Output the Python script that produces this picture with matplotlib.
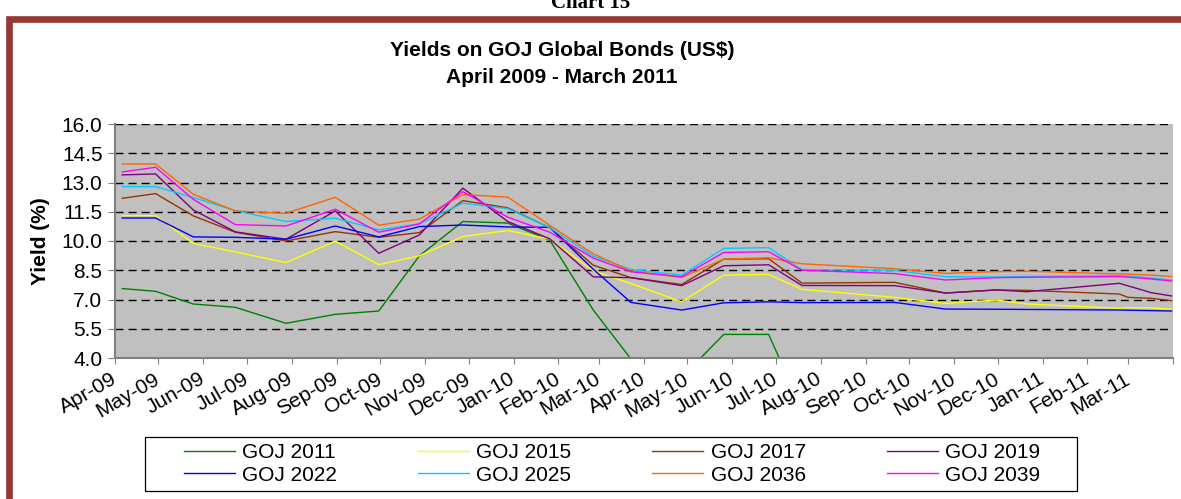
import matplotlib
matplotlib.use('Agg')
import matplotlib.pyplot as plt
from matplotlib.patches import Rectangle
import numpy as np
import pandas as pd

plt.rcParams['font.family'] = ['Liberation Sans', 'DejaVu Sans']

dates = ['2009-04-06', '2009-04-29', '2009-05-25', '2009-06-23', '2009-07-28',
         '2009-08-31', '2009-09-30', '2009-10-28', '2009-11-27', '2009-12-28',
         '2010-01-26', '2010-02-25', '2010-03-23', '2010-04-27', '2010-05-26',
         '2010-06-26', '2010-07-19', '2010-09-21', '2010-10-26', '2010-11-30',
         '2010-12-21', '2011-02-23', '2011-03-01', '2011-03-17', '2011-03-31']

goj2011 = [7.56, 7.42, 6.77, 6.60, 5.78, 6.24, 6.41, 9.24, 11.00, 10.92,
           10.04, 6.46, 3.95, 3.00, 5.21, 5.21, 1.40, np.nan, np.nan, np.nan,
           np.nan, np.nan, np.nan, np.nan, np.nan]
goj2015 = [11.30, 11.30, 9.88, 9.44, 8.89, 9.99, 8.79, 9.24, 10.23, 10.54,
           10.10, 8.47, 7.82, 6.88, 8.25, 8.29, 7.52, 7.11, 6.80, 6.97,
           6.77, 6.55, 6.58, 6.57, 6.50]
goj2017 = [12.19, 12.43, 11.29, 10.45, 10.00, 10.48, 10.19, 10.43, 12.07, 11.70,
           10.68, 8.76, 8.12, 7.77, 9.07, 9.09, 7.84, 7.88, 7.33, 7.49,
           7.47, 7.28, 7.11, 7.06, 6.94]
goj2019 = [13.39, 13.44, 11.59, 10.47, 10.09, 11.54, 9.37, 10.31, 12.71, 11.00,
           10.11, 8.16, 8.12, 7.71, 8.73, 8.78, 7.72, 7.71, 7.33, 7.49,
           7.40, 7.83, 7.70, 7.35, 7.18]
goj2022 = [11.18, 11.18, 10.21, 10.19, 10.09, 10.77, 10.21, 10.74, 10.82, 10.72,
           10.70, 8.55, 6.85, 6.46, 6.83, 6.88, 6.84, 6.85, 6.51, 6.50,
           6.49, 6.46, 6.45, 6.43, 6.41]
goj2025 = [12.79, 12.79, 12.23, 11.56, 11.00, 11.17, 10.57, 10.88, 11.94, 11.66,
           10.68, 9.22, 8.54, 8.25, 9.62, 9.66, 8.53, 8.49, 8.17, 8.15,
           8.18, 8.22, 8.20, 8.10, 8.00]
goj2036 = [13.95, 13.95, 12.40, 11.54, 11.42, 12.24, 10.81, 11.12, 12.38, 12.25,
           10.80, 9.34, 8.46, 8.13, 9.07, 9.14, 8.83, 8.58, 8.34, 8.43,
           8.45, 8.31, 8.30, 8.25, 8.18]
goj2039 = [13.54, 13.78, 12.14, 10.84, 10.77, 11.63, 10.45, 10.88, 12.53, 11.22,
           10.45, 9.12, 8.42, 8.17, 9.41, 9.45, 8.50, 8.33, 8.00, 8.12,
           8.14, 8.17, 8.15, 8.05, 7.95]

series_names = ['GOJ 2011', 'GOJ 2015', 'GOJ 2017', 'GOJ 2019',
                'GOJ 2022', 'GOJ 2025', 'GOJ 2036', 'GOJ 2039']
series_vals = [goj2011, goj2015, goj2017, goj2019,
               goj2022, goj2025, goj2036, goj2039]
colors = ['#008000', '#FFFF00', '#993300', '#800080',
          '#0000FF', '#00CCFF', '#FF6600', '#FF00FF']

x = pd.to_datetime(dates)
W, H = 1181, 499

fig = plt.figure(figsize=(W / 100, H / 100), dpi=100)
ax = fig.add_axes([115 / W, 1 - 358 / H, 1058 / W, 234 / H])
ax.set_facecolor('#C0C0C0')

lines = {}
for name, vals, c in zip(series_names, series_vals, colors):
    ln, = ax.plot(x, vals, color=c, lw=1.0, label=name)
    lines[name] = ln

ax.set_ylim(4.0, 16.0)
yt = np.arange(4.0, 16.01, 1.5)
ax.set_yticks(yt)
ax.set_yticklabels(['%.1f' % v for v in yt])
ax.yaxis.grid(True, color='black', lw=1.0, linestyle=(0, (5.8, 3.6)))
ax.set_axisbelow(True)

months = pd.date_range('2009-04-01', '2011-04-01', freq='MS')
ax.set_xlim(months[0], months[-1])
ax.set_xticks(months)
ax.set_xticklabels([m.strftime('%b-%y') for m in months[:-1]] + [''],
                   rotation=30, ha='right', va='center', rotation_mode='anchor')

for s in ['top', 'right']:
    ax.spines[s].set_visible(False)
for s in ['left', 'bottom']:
    ax.spines[s].set_color('#808080')
    ax.spines[s].set_linewidth(1.5)
ax.tick_params(axis='y', direction='out', length=5, color='#808080',
               labelsize=15, pad=4)
ax.tick_params(axis='x', direction='out', length=4, color='#808080',
               labelsize=15, pad=10)

ax.set_ylabel('Yield (%)', fontsize=15, fontweight='bold')
ax.yaxis.set_label_coords(-0.061, 0.5)

fig.text(562 / W, 1 - 50 / H, 'Yields on GOJ Global Bonds (US$)',
         ha='center', va='center', fontsize=15, fontweight='bold')
fig.text(562 / W, 1 - 78 / H, 'April 2009 - March 2011',
         ha='center', va='center', fontsize=15, fontweight='bold')
fig.text(551 / W, 1 - 8 / H, 'Chart 15', ha='left', va='baseline',
         fontsize=15, fontweight='bold', family='Liberation Serif')

# outer chart frame
fig.add_artist(Rectangle((9 / W, -0.1), 1.2, 1 - 19 / H + 0.1,
                         transform=fig.transFigure, fill=False,
                         edgecolor='#953735', linewidth=4.8))

# legend in row order
order = ['GOJ 2011', 'GOJ 2022', 'GOJ 2015', 'GOJ 2025',
         'GOJ 2017', 'GOJ 2036', 'GOJ 2019', 'GOJ 2039']
leg = fig.legend([lines[n] for n in order], order, ncol=4, loc='center',
                 bbox_to_anchor=(184 / W, 1 - 491 / H, (1040 - 184) / W, 54 / H),
                 mode='expand', frameon=False, fontsize=15,
                 handlelength=2.45, handletextpad=0.35, labelspacing=0.15,
                 borderpad=0, borderaxespad=0)
fig.add_artist(Rectangle((145 / W, 1 - 491 / H), (1077 - 145) / W, 54 / H,
                         transform=fig.transFigure, fill=False,
                         edgecolor='black', linewidth=0.9))

fig.savefig('out.png', dpi=100)
